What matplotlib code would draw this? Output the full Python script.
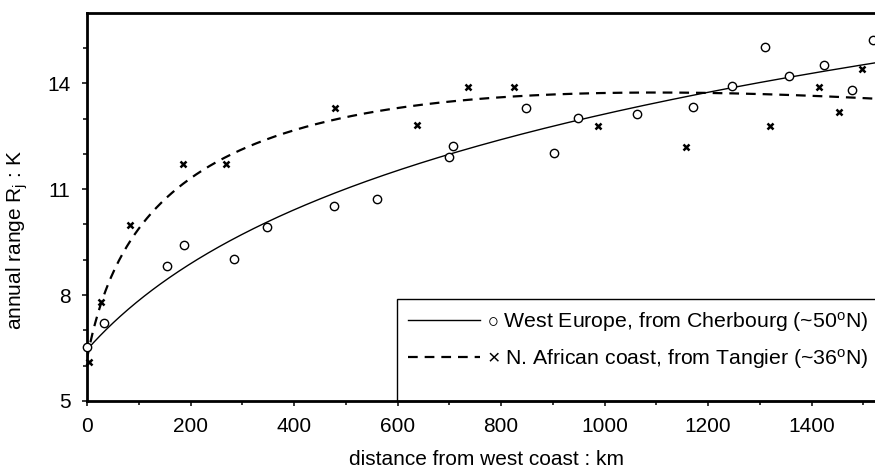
import numpy as np
import matplotlib
matplotlib.use("Agg")
import matplotlib.pyplot as plt
from matplotlib.lines import Line2D
from matplotlib.patches import Rectangle

plt.rcParams["font.family"] = ["Liberation Sans", "DejaVu Sans"]
plt.rcParams["mathtext.fontset"] = "custom"
plt.rcParams["mathtext.rm"] = "Liberation Sans"
plt.rcParams["mathtext.it"] = "Liberation Sans:italic"
plt.rcParams["lines.scale_dashes"] = False

# Observed annual temperature range along two west-coast transects
europe_km = [0, 32, 155, 188, 285, 348, 477, 561, 700, 707, 849, 902, 948,
             1063, 1171, 1246, 1310, 1357, 1424, 1478, 1519]
europe_range = [6.52, 7.22, 8.82, 9.42, 9.02, 9.92, 10.52, 10.71, 11.91, 12.21,
                13.31, 12.02, 13.03, 13.12, 13.32, 13.91, 15.02, 14.21, 14.52,
                13.81, 15.23]

africa_km = [4, 28, 84, 186, 269, 479, 638, 737, 826, 988, 1157, 1319, 1414,
             1453, 1498]
africa_range = [6.11, 7.81, 9.98, 11.71, 11.71, 13.31, 12.81, 13.90, 13.90,
                12.80, 12.20, 12.80, 13.90, 13.20, 14.41]

# Fitted trend curves: R = a + b*ln(1 + d/c) + e*d
europe_fit = [6.45, 4.15, 250.0, 0.0]
africa_fit = [6.2, 3.16, 40.0, -0.00277]

x_ticks = [0, 200, 400, 600, 800, 1000, 1200, 1400]
y_ticks = [5, 8, 11, 14]
x_max = 1542
y_lim = (5, 16)

FS = 15
DASH = (0, (7.0, 5.0))


def trend(d, p):
    a, b, c, e = p
    return a + b * np.log1p(d / c) + e * d


fig = plt.figure(figsize=(8.75, 4.75), dpi=100)
ax = fig.add_axes([87 / 875, 74 / 475, 798 / 875, 388.3 / 475])

d = np.linspace(0, x_max, 600)
ax.plot(d, trend(d, europe_fit), color="black", lw=1.0)
ax.plot(d, trend(d, africa_fit), color="black", lw=1.6, linestyle=DASH)

ax.plot(europe_km, europe_range, linestyle="none", marker="o", ms=6,
        mfc="white", mec="black", mew=1.0, clip_on=False, zorder=4)
ax.plot(africa_km, africa_range, linestyle="none", marker="x", ms=5,
        color="black", mew=1.8, clip_on=False, zorder=4)

ax.set_xlim(0, x_max)
ax.set_ylim(*y_lim)
ax.set_xticks(x_ticks)
ax.set_yticks(y_ticks)
ax.set_xticks(np.arange(100, x_max, 200), minor=True)
ax.set_yticks([v for v in range(6, 16) if v not in y_ticks], minor=True)
ax.tick_params(which="both", direction="out", length=3.8, width=1.1,
               labelsize=FS, pad=8)
ax.tick_params(which="minor", length=3.2)

for side in ["left", "bottom", "top"]:
    ax.spines[side].set_linewidth(2.0)
ax.spines["right"].set_visible(False)

ax.set_xlabel("distance from west coast : km", fontsize=FS, labelpad=10)
ax.set_ylabel(r"annual range R$_\mathrm{j}$ : K", fontsize=FS)
ax.yaxis.set_label_coords(-0.071, 0.415)

# legend frame sitting on the x axis
ax.add_patch(Rectangle((310 / 798, 0), 0.7, 102 / 388.3,
                       transform=ax.transAxes, facecolor="white",
                       edgecolor="black", lw=1.0, clip_on=False, zorder=2.2))

handles = [Line2D([], [], color="black", lw=1.0),
           Line2D([], [], color="black", lw=1.6, linestyle=DASH)]
labels = [r"$\circ$ West Europe, from Cherbourg (~50$^\mathrm{o}$N)",
          "\u00d7 N. African coast, from Tangier (~36$^\\mathrm{o}$N)"]
leg = ax.legend(handles, labels, loc="upper left",
                bbox_to_anchor=(321 / 798, 91 / 388.3), fontsize=15.3,
                handlelength=3.4, handletextpad=0.3, borderpad=0,
                labelspacing=0.6, frameon=False, borderaxespad=0)
leg.set_zorder(5)

fig.savefig("out.png", dpi=100)
